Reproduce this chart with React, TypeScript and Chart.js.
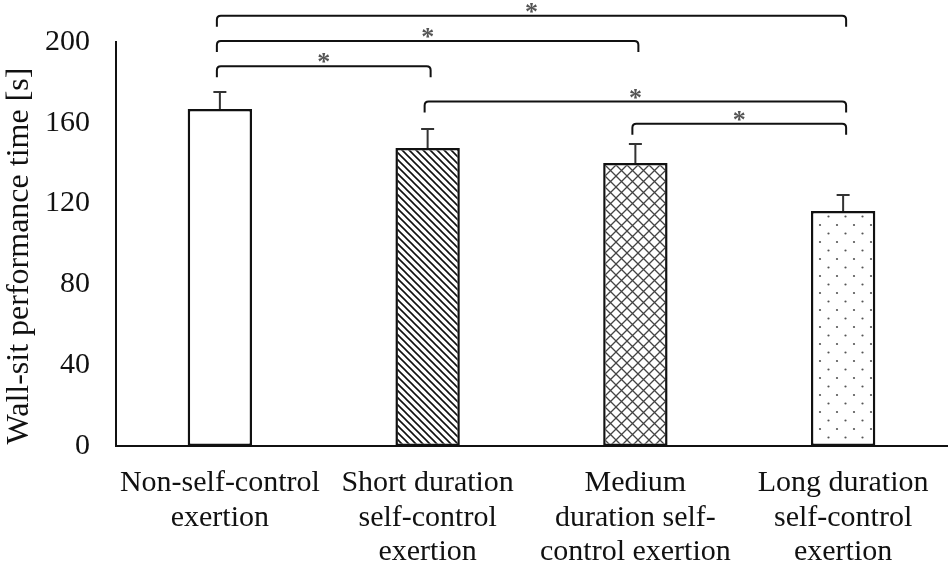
import React, { useEffect, useRef } from 'react';
import { Chart, registerables } from 'chart.js';

Chart.register(...registerables);

const categories: string[][] = [
  ['Non-self-control', 'exertion'],
  ['Short duration', 'self-control', 'exertion'],
  ['Medium', 'duration self-', 'control exertion'],
  ['Long duration', 'self-control', 'exertion'],
];
const meanTimes = [166.8, 147.5, 140.1, 116.3];
const errorTops = [175.2, 156.9, 149.5, 124.3];
const yTicks = [0, 40, 80, 120, 160, 200];
const bracketFrom = [0, 0, 0, 1, 2];
const bracketTo = [3, 2, 1, 3, 3];
const bracketLevels = [213, 200.5, 188, 170.5, 159.5];
const bracketMarks = ['*', '*', '*', '*', '*'];
const yTitle = 'Wall-sit performance time [s]   ';

const FONT = '"Liberation Serif", "Times New Roman", serif';

function makePattern(kind: string): CanvasPattern | string {
  const c = document.createElement('canvas');
  const ctx = c.getContext('2d')!;
  if (kind === 'hatch') {
    const s = 7;
    c.width = s; c.height = s;
    ctx.fillStyle = '#fff'; ctx.fillRect(0, 0, s, s);
    ctx.strokeStyle = '#111'; ctx.lineWidth = 1.6;
    ctx.beginPath();
    ctx.moveTo(-1, -1); ctx.lineTo(s + 1, s + 1);
    ctx.moveTo(-1 - s, -1); ctx.lineTo(1, s + 1);
    ctx.moveTo(s - 1, -1); ctx.lineTo(2 * s + 1, s + 1);
    ctx.stroke();
  } else if (kind === 'cross') {
    const s = 11;
    c.width = s; c.height = s;
    ctx.fillStyle = '#fff'; ctx.fillRect(0, 0, s, s);
    ctx.strokeStyle = '#444'; ctx.lineWidth = 1.3;
    ctx.beginPath();
    ctx.moveTo(0, 0); ctx.lineTo(s, s);
    ctx.moveTo(s, 0); ctx.lineTo(0, s);
    ctx.stroke();
  } else if (kind === 'dots') {
    c.width = 17; c.height = 17;
    ctx.fillStyle = '#fff'; ctx.fillRect(0, 0, 17, 17);
    ctx.fillStyle = '#555';
    ctx.beginPath(); ctx.arc(4, 4, 1.1, 0, Math.PI * 2); ctx.fill();
    ctx.beginPath(); ctx.arc(12.5, 12.5, 1.1, 0, Math.PI * 2); ctx.fill();
  } else {
    return '#fff';
  }
  const p = ctx.createPattern(c, 'repeat');
  return p || '#fff';
}

const overlayPlugin = {
  id: 'overlay',
  afterDatasetsDraw(chart: any) {
    const { ctx, scales } = chart;
    const xs = scales.x;
    const ys = scales.y;
    ctx.save();
    // error bars
    ctx.strokeStyle = '#333';
    ctx.lineWidth = 2;
    meanTimes.forEach((v, i) => {
      const x = xs.getPixelForValue(i);
      const y0 = ys.getPixelForValue(v);
      const y1 = ys.getPixelForValue(errorTops[i]);
      ctx.beginPath();
      ctx.moveTo(x, y0);
      ctx.lineTo(x, y1);
      ctx.moveTo(x - 6.5, y1);
      ctx.lineTo(x + 6.5, y1);
      ctx.stroke();
    });
    // brackets
    ctx.strokeStyle = '#111';
    ctx.lineWidth = 2;
    ctx.lineJoin = 'round';
    const drop = 11;
    const r = 4;
    bracketLevels.forEach((lv, i) => {
      const x1 = xs.getPixelForValue(bracketFrom[i]) - 3;
      const x2 = xs.getPixelForValue(bracketTo[i]) + 3;
      const y = ys.getPixelForValue(lv);
      ctx.beginPath();
      ctx.moveTo(x1, y + drop);
      ctx.lineTo(x1, y + r);
      ctx.quadraticCurveTo(x1, y, x1 + r, y);
      ctx.lineTo(x2 - r, y);
      ctx.quadraticCurveTo(x2, y, x2, y + r);
      ctx.lineTo(x2, y + drop);
      ctx.stroke();
      ctx.fillStyle = '#555';
      ctx.font = `bold 26px ${FONT}`;
      ctx.textAlign = 'center';
      ctx.textBaseline = 'alphabetic';
      ctx.fillText(bracketMarks[i], (x1 + x2) / 2, y + 4);
    });
    ctx.restore();
  },
};

export default function App() {
  const ref = useRef<HTMLCanvasElement | null>(null);
  useEffect(() => {
    if (!ref.current) return;
    const fills = [makePattern('none'), makePattern('hatch'), makePattern('cross'), makePattern('dots')];
    const chart = new Chart(ref.current, {
      type: 'bar',
      data: {
        labels: categories,
        datasets: [
          {
            data: meanTimes,
            backgroundColor: fills as any,
            borderColor: '#111',
            borderWidth: 2.5,
            borderSkipped: false,
            barPercentage: 0.31,
            categoryPercentage: 1,
          },
        ],
      },
      options: {
        animation: false,
        responsive: true,
        maintainAspectRatio: false,
        layout: { padding: { top: 42, right: 3, left: 0, bottom: 0 } },
        plugins: { legend: { display: false }, tooltip: { enabled: false } },
        scales: {
          x: {
            grid: { display: false, drawTicks: false },
            border: { display: true, color: '#111', width: 2 },
            ticks: {
              color: '#111',
              font: { family: FONT, size: 30, lineHeight: 1.15 },
              padding: 20,
              maxRotation: 0,
              autoSkip: false,
            },
            afterFit(scale: any) { scale.height = 117; },
          },
          y: {
            min: 0,
            max: 200,
            afterBuildTicks(scale: any) { scale.ticks = yTicks.map((v) => ({ value: v })); },
            grid: { display: false, drawTicks: false },
            border: { display: true, color: '#111', width: 2 },
            ticks: {
              color: '#111',
              font: { family: FONT, size: 30 },
              padding: 26,
            },
            title: {
              display: true,
              text: yTitle,
              color: '#111',
              font: { family: FONT, size: 32 },
              padding: { top: 0, bottom: 0 },
            },
            afterFit(scale: any) {
              scale.width = 116;
              scale.paddingTop = 0;
              scale.paddingBottom = 0;
            },
          },
        },
      },
      plugins: [overlayPlugin],
    });
    return () => chart.destroy();
  }, []);
  return (
    <div style={{ position: 'fixed', left: 0, top: 0, width: 950, height: 563, background: '#fff' }}>
      <canvas ref={ref} />
    </div>
  );
}
